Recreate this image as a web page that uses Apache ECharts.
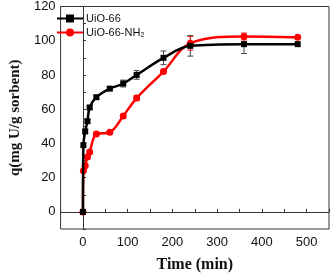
<!DOCTYPE html>
<html>
<head>
<meta charset="utf-8">
<script src="https://cdn.jsdelivr.net/npm/echarts@6/dist/echarts.min.js"></script>
<style>
  html, body { margin: 0; padding: 0; background: #fff; }
  #chart { width: 332px; height: 278px; }
</style>
</head>
<body>
<div id="chart"></div>
<script>
// sampling times (min)
const times = [0, 1, 5, 10, 15, 30, 60, 90, 120, 180, 240, 360, 480]
// adsorbed amount q (mg U/g sorbent)
const uio66 = [0, 39, 47, 53, 61, 67, 72, 75, 80, 90, 97, 98, 98]
const uio66Err = [0, 0.5, 1, 1, 1, 1, 1, 2, 2.5, 4, 6, 5.5, 0.5]
const uio66NH2 = [0, 24, 27, 32, 35, 45.5, 46.5, 56, 66.5, 82, 98.5, 102.5, 102]
const uio66NH2Err = [0, 0.5, 1, 1, 1, 1, 0.5, 1, 1.5, 1, 4, 2, 0.5]

const textStyle = {
  fontFamily: 'Liberation Sans',
  fontWeight: 'normal',
  color: '#111'
}

function pairs(ys) {
  return times.map((t, i) => [t, ys[i]])
}

function errorBars(ys, errs, color) {
  return {
    type: 'custom',
    silent: true,
    z: 1,
    data: times.map((t, i) => [t, ys[i] - errs[i], ys[i] + errs[i]]),
    renderItem(params, api) {
      const lo = api.coord([api.value(0), api.value(1)])
      const hi = api.coord([api.value(0), api.value(2)])
      if (hi[1] - lo[1] > -3) return null
      const w = 3
      const style = { stroke: color, lineWidth: 1 }
      return {
        type: 'group',
        children: [
          { type: 'line', shape: { x1: lo[0], y1: lo[1], x2: hi[0], y2: hi[1] }, style },
          { type: 'line', shape: { x1: lo[0] - w, y1: lo[1], x2: lo[0] + w, y2: lo[1] }, style },
          { type: 'line', shape: { x1: hi[0] - w, y1: hi[1], x2: hi[0] + w, y2: hi[1] }, style }
        ]
      }
    }
  }
}

const chart = echarts.init(document.getElementById('chart'))
chart.setOption({
  animation: false,
  grid: {
    left: 46,
    right: 2,
    top: 6,
    bottom: 41,
    show: true,
    borderColor: '#333',
    borderWidth: 1
  },
  legend: {
    left: 51,
    top: 8,
    orient: 'vertical',
    itemGap: 3,
    itemWidth: 26,
    itemHeight: 10,
    data: ['UiO-66', 'UiO-66-NH2'],
    textStyle: {
      fontFamily: 'Liberation Sans',
      fontSize: 11,
      color: '#111',
      padding: [0, 0, 0, -2],
      rich: {
        sub: { fontSize: 7, verticalAlign: 'bottom', padding: [6, 0, 0, 0], fontFamily: 'Liberation Sans', color: '#111' }
      }
    },
    formatter(name) {
      return name === 'UiO-66-NH2' ? 'UiO-66-NH{sub|2}' : name
    }
  },
  xAxis: {
    type: 'value',
    min: -50,
    max: 550,
    interval: 50,
    name: 'Time (min)',
    nameLocation: 'middle',
    nameGap: 28,
    nameTextStyle: { fontFamily: 'Liberation Serif', fontWeight: 'bold', fontSize: 16, color: '#111' },
    axisLine: { lineStyle: { color: '#333' } },
    axisTick: { inside: true, length: 3, lineStyle: { color: '#333' } },
    axisLabel: Object.assign({
      fontSize: 13,
      margin: 7,
      formatter: v => (v >= 0 && v % 100 === 0 ? String(v) : '')
    }, textStyle),
    splitLine: { show: false }
  },
  yAxis: {
    type: 'value',
    min: -10,
    max: 120,
    interval: 10,
    name: 'q(mg U/g sorbent)',
    nameLocation: 'middle',
    nameGap: 34,
    nameTextStyle: { fontFamily: 'Liberation Serif', fontWeight: 'bold', fontSize: 15, color: '#111' },
    axisLine: { show: true, lineStyle: { color: '#333' } },
    axisTick: { show: true, inside: true, length: 3, lineStyle: { color: '#333' } },
    axisLabel: Object.assign({
      fontSize: 13,
      margin: 5,
      formatter: v => (v >= 0 && v % 20 === 0 ? String(v) : '')
    }, textStyle),
    splitLine: { show: false }
  },
  series: [
    errorBars(uio66, uio66Err, '#444'),
    errorBars(uio66NH2, uio66NH2Err, '#ff2020'),
    {
      name: 'UiO-66',
      type: 'line',
      smooth: 0.35,
      data: pairs(uio66),
      symbol: 'rect',
      symbolSize: 6,
      z: 3,
      itemStyle: { color: '#000' },
      lineStyle: { color: '#000', width: 2.5 }
    },
    {
      name: 'UiO-66-NH2',
      type: 'line',
      smooth: 0.35,
      data: pairs(uio66NH2),
      symbol: 'circle',
      symbolSize: 7,
      z: 2,
      itemStyle: { color: '#ff0000' },
      lineStyle: { color: '#ff0000', width: 2.5 }
    }
  ]
})
</script>
</body>
</html>
